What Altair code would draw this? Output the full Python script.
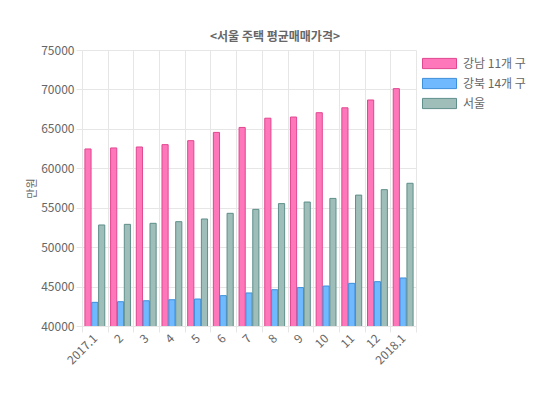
import altair as alt
import pandas as pd

months = ["2017.1", "2", "3", "4", "5", "6", "7", "8", "9", "10", "11", "12", "2018.1"]
series = ["강남 11개 구", "강북 14개 구", "서울"]
gangnam = [62450, 62580, 62700, 63000, 63500, 64550, 65180, 66350, 66500, 67050, 67670, 68660, 70100]
gangbuk = [43000, 43080, 43200, 43330, 43420, 43850, 44190, 44600, 44870, 45070, 45410, 45620, 46090]
seoul = [52810, 52890, 53020, 53230, 53570, 54290, 54790, 55520, 55720, 56180, 56600, 57290, 58100]
fills = ["#ff77bb", "#70b9ff", "#9fbdb9"]
strokes = ["#e0468f", "#3d8fdb", "#5e8f8a"]

rows = []
for s, vals in zip(series, [gangnam, gangbuk, seoul]):
    for m, v in zip(months, vals):
        rows.append({"month": m, "series": s, "value": v})
df = pd.DataFrame(rows)

font = "Noto Sans CJK KR"
rect_path = "M-2.5,-0.75L2.5,-0.75L2.5,0.75L-2.5,0.75Z"

chart = alt.Chart(df).mark_bar(strokeWidth=1, fillOpacity=1, clip=True).encode(
    x=alt.X("month:N", sort=months,
            scale=alt.Scale(paddingInner=0, paddingOuter=0),
            axis=alt.Axis(title=None, labelAngle=-45, labelAlign="right",
                          labelBaseline="middle", labelPadding=4,
                          tickBand="extent", grid=True, gridColor="#e6e6e6",
                          tickColor="#e6e6e6", tickSize=6,
                          domainColor="#e6e6e6", labelColor="#666666",
                          labelFontSize=12, labelFont=font)),
    xOffset=alt.XOffset("series:N", sort=series,
                        scale=alt.Scale(paddingInner=0.1, paddingOuter=0.425)),
    y=alt.Y("value:Q",
            scale=alt.Scale(domain=[40000, 75000], nice=False, zero=False),
            axis=alt.Axis(title="만원", values=[40000, 45000, 50000, 55000, 60000, 65000, 70000, 75000],
                          format="d", gridColor="#e6e6e6", tickColor="#e6e6e6",
                          tickSize=6, domainColor="#e6e6e6",
                          labelColor="#666666", labelFontSize=12, labelFont=font,
                          labelPadding=2,
                          titleColor="#666666", titleFontSize=11, titleFontWeight="normal",
                          titleFont=font, titleX=-50, titleY=138, titleAngle=270,
                          titleAlign="center", titleBaseline="middle")),
    fill=alt.Fill("series:N", sort=series,
                  scale=alt.Scale(domain=series, range=fills),
                  legend=alt.Legend(title=None, orient="none", legendX=350, legendY=6,
                                    symbolType=rect_path, symbolSize=185,
                                    symbolStrokeWidth=1, labelFontSize=12,
                                    labelColor="#666666", labelFont=font,
                                    rowPadding=5, labelOffset=16)),
    stroke=alt.Stroke("series:N", sort=series,
                      scale=alt.Scale(domain=series, range=strokes), legend=None),
).properties(
    width=334, height=276,
    title=alt.TitleParams("<서울 주택 평균매매가격>", anchor="middle", frame="group",
                          dx=26, offset=0, fontSize=12, fontWeight="bold",
                          color="#666666", font=font),
    autosize=alt.AutoSizeParams(type="none"),
    padding={"left": 74, "top": 42, "right": 126, "bottom": 69},
).configure_view(stroke=None)

chart.save("out.html", embed_options={"renderer": "svg", "actions": False})
